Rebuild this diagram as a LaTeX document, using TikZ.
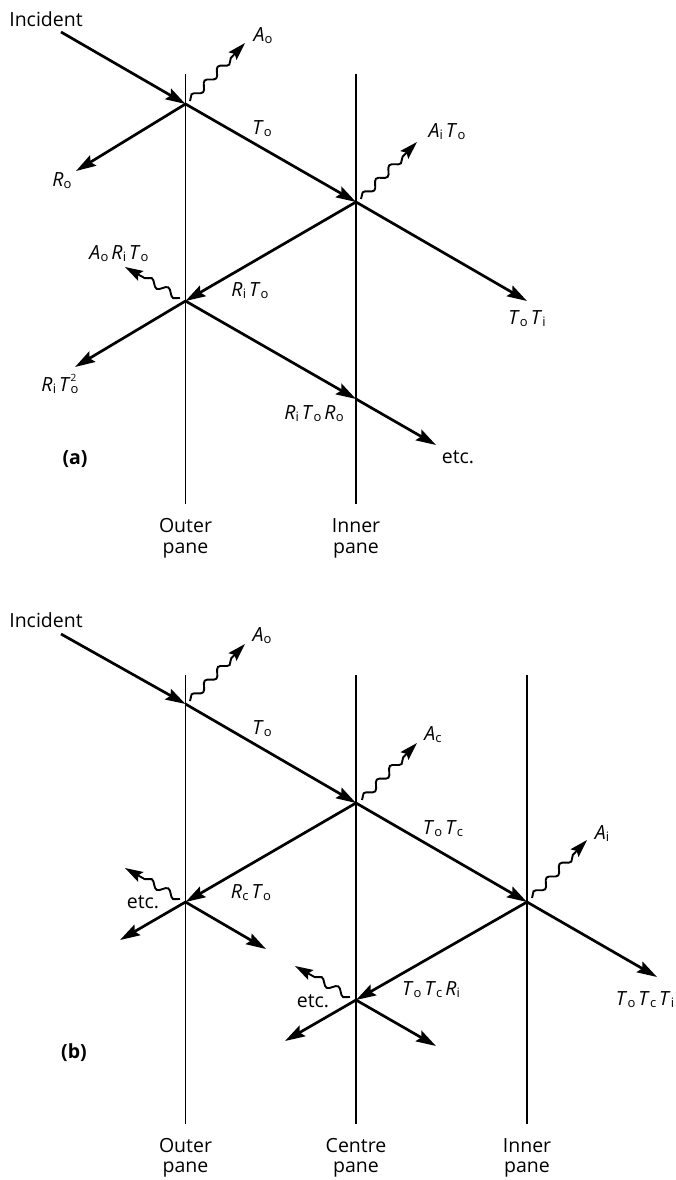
\documentclass[tikz,border=0pt]{standalone}
\usepackage{fontspec}
\setmainfont{Open Sans}
\usetikzlibrary{arrows.meta,decorations.pathmorphing}
\newcommand\myf[2]{\textit{#1}\kern0.2pt\raisebox{-2pt}{\fontsize{13}{13}\selectfont #2}}
\newcommand\myfsq[3]{\textit{#1}\kern0.2pt\rlap{\raisebox{9.5pt}{\fontsize{10}{10}\selectfont #3}}\raisebox{-2pt}{\fontsize{13}{13}\selectfont #2}}
\newcommand\gap{\hspace{3pt}}
\tikzset{
  pane/.style={line width=1.4pt},
  ray/.style={line width=2.7pt,-{Stealth[length=20pt,width=12pt,inset=3pt]}},
  heat/.style={line width=1.9pt,decorate,decoration={snake,amplitude=3.5pt,segment length=19pt,post length=17pt},-{Stealth[length=18pt,width=11pt,inset=3pt]}},
  lab/.style={inner sep=0pt,font=\fontsize{19.5}{22}\selectfont},
  bl/.style={inner sep=0pt,anchor=base,font=\fontsize{19.5}{22}\selectfont}
}
\begin{document}
\begin{tikzpicture}[x=1pt,y=-1pt]
\useasboundingbox (0,0) rectangle (676,1180);
% ---------------- (a) ----------------
\coordinate (aOt) at (185.5,74); \coordinate (aOb) at (185.5,504);
\coordinate (aIt) at (356,74);   \coordinate (aIb) at (356,504);
\draw[pane] (aOt) -- (aOb);
\draw[pane] (aIt) -- (aIb);
\coordinate (aInc) at (61,32);
\coordinate (aO1) at (185.5,104);
\coordinate (aI1) at (356,202);
\coordinate (aO2) at (185.5,301);
\coordinate (aI2) at (356,399);
\coordinate (aEtc) at (436,445);
\coordinate (aRo) at (76,171);
\coordinate (aToTi) at (527,301);
\coordinate (aRiTo2) at (75,367);
\coordinate (aAos) at (190,101);   \coordinate (aAoe) at (245,43);
\coordinate (aAis) at (361,199);   \coordinate (aAie) at (417,142);
\coordinate (aAoRs) at (180,298);  \coordinate (aAoRe) at (125,267);
\draw[ray] (aInc) -- (aO1);
\draw[ray] (aO1) -- (aRo);
\draw[ray] (aO1) -- (aI1);
\draw[ray] (aI1) -- (aToTi);
\draw[ray] (aI1) -- (aO2);
\draw[ray] (aO2) -- (aRiTo2);
\draw[ray] (aO2) -- (aI2);
\draw[ray] (aI2) -- (aEtc);
\draw[heat] (aAos) -- (aAoe);
\draw[heat] (aAis) -- (aAie);
\draw[heat] (aAoRs) -- (aAoRe);
\node[lab] (tIncA) at (46,19) {Incident};
\node[lab] (tAoA) at (263,36) {\myf{A}{o}};
\node[lab] (tToA) at (262,129) {\myf{T}{o}};
\node[lab] (tRoA) at (62,181) {\myf{R}{o}};
\node[lab] (tAiTo) at (447,132) {\myf{A}{i}\gap\myf{T}{o}};
\node[lab] (tRiTo) at (250,291) {\myf{R}{i}\gap\myf{T}{o}};
\node[lab] (tToTi) at (527,319) {\myf{T}{o}\gap\myf{T}{i}};
\node[lab] (tAoRiTo) at (119,254) {\myf{A}{o}\gap\myf{R}{i}\gap\myf{T}{o}};
\node[lab] (tRiTo2) at (60,384) {\myf{R}{i}\gap\myfsq{T}{o}{2}};
\node[lab] (tRiToRo) at (314,414) {\myf{R}{i}\gap\myf{T}{o}\gap\myf{R}{o}};
\node[lab] (tEtcA) at (458,457) {etc.};
\node[lab,font=\fontsize{19.5}{22}\selectfont\bfseries] (tA) at (75,459) {(a)};
\node[bl] (tOutA) at (185.5,532) {Outer};
\node[bl] (tOutA2) at (185.5,553) {pane};
\node[bl] (tInA) at (356,532) {Inner};
\node[bl] (tInA2) at (356,553) {pane};
% ---------------- (b) ----------------
\coordinate (bOt) at (185.5,675); \coordinate (bOb) at (185.5,1124);
\coordinate (bCt) at (356,675);   \coordinate (bCb) at (356,1124);
\coordinate (bIt) at (527,675);   \coordinate (bIb) at (527,1124);
\draw[pane] (bOt) -- (bOb);
\draw[pane] (bCt) -- (bCb);
\draw[pane] (bIt) -- (bIb);
\coordinate (bInc) at (61,634);
\coordinate (bO1) at (185.5,704);
\coordinate (bC1) at (356,803);
\coordinate (bI1) at (527,902);
\coordinate (bO2) at (185.5,902);
\coordinate (bC2) at (356,1000);
\coordinate (bO2l) at (120,940);  \coordinate (bO2r) at (266,949);
\coordinate (bC2l) at (285,1041); \coordinate (bC2r) at (436,1046);
\coordinate (bTrans) at (657,977);
\coordinate (bAos) at (190,701);  \coordinate (bAoe) at (245,644);
\coordinate (bAcs) at (362,800);  \coordinate (bAce) at (417,743);
\coordinate (bAis) at (532,898);  \coordinate (bAie) at (587,840);
\coordinate (bE1s) at (180,899);  \coordinate (bE1e) at (125,868);
\coordinate (bE2s) at (350,997);  \coordinate (bE2e) at (295,966);
\draw[ray] (bInc) -- (bO1);
\draw[ray] (bO1) -- (bC1);
\draw[ray] (bC1) -- (bI1);
\draw[ray] (bC1) -- (bO2);
\draw[ray] (bI1) -- (bTrans);
\draw[ray] (bI1) -- (bC2);
\draw[ray] (bO2) -- (bO2l);
\draw[ray] (bO2) -- (bO2r);
\draw[ray] (bC2) -- (bC2l);
\draw[ray] (bC2) -- (bC2r);
\draw[heat] (bAos) -- (bAoe);
\draw[heat] (bAcs) -- (bAce);
\draw[heat] (bAis) -- (bAie);
\draw[heat] (bE1s) -- (bE1e);
\draw[heat] (bE2s) -- (bE2e);
\node[lab] (tIncB) at (46,620) {Incident};
\node[lab] (tAoB) at (262,636) {\myf{A}{o}};
\node[lab] (tToB) at (262,729) {\myf{T}{o}};
\node[lab] (tAc) at (433,735) {\myf{A}{c}};
\node[lab] (tToTc) at (443,829) {\myf{T}{o}\gap\myf{T}{c}};
\node[lab] (tAi) at (602,834) {\myf{A}{i}};
\node[lab] (tRcTo) at (251,893) {\myf{R}{c}\gap\myf{T}{o}};
\node[lab] (tEtcB1) at (143,902) {etc.};
\node[lab] (tToTcRi) at (431,990) {\myf{T}{o}\gap\myf{T}{c}\gap\myf{R}{i}};
\node[lab] (tEtcB2) at (313,1001) {etc.};
\node[lab] (tToTcTi) at (645,1000) {\myf{T}{o}\gap\myf{T}{c}\gap\myf{T}{i}};
\node[lab,font=\fontsize{19.5}{22}\selectfont\bfseries] (tB) at (74,1053) {(b)};
\node[bl] (tOutB) at (185.5,1152) {Outer};
\node[bl] (tOutB2) at (185.5,1172) {pane};
\node[bl] (tCenB) at (356,1152) {Centre};
\node[bl] (tCenB2) at (356,1172) {pane};
\node[bl] (tInB) at (527,1152) {Inner};
\node[bl] (tInB2) at (527,1172) {pane};
\end{tikzpicture}
\end{document}
